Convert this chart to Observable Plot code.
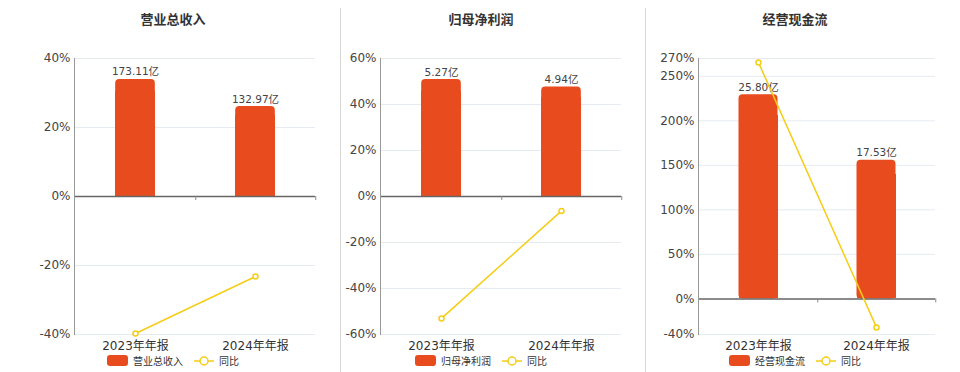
<!DOCTYPE html>
<html><head><meta charset="utf-8">
<script src="https://cdn.jsdelivr.net/npm/d3@7"></script>
<script src="https://cdn.jsdelivr.net/npm/@observablehq/plot@0.6"></script>
<style>
body{margin:0;background:#fff;}
#root{position:relative;width:960px;height:372px;overflow:hidden;background:#fff;font-family:"DejaVu Sans","Noto Sans CJK SC",sans-serif;}
.title{position:absolute;top:9px;width:200px;text-align:center;font:bold 13px "Noto Sans CJK SC",sans-serif;color:#333;line-height:20px;}
.sep{position:absolute;top:8px;width:1px;height:364px;background:#d6d6d6;}
.legend{position:absolute;top:353px;width:240px;display:flex;justify-content:center;align-items:center;font:10px "Noto Sans CJK SC",sans-serif;color:#333;}
.legend .sw{width:21px;height:11px;border-radius:3px;background:#e84c1e;margin-right:5px;}
.legend .lt{margin-right:10px;}
.plot{position:absolute;top:0;}
</style></head>
<body><div id="root"></div>
<script>
const categories = ["2023年年报", "2024年年报"];
const panelTitles = ["营业总收入", "归母净利润", "经营现金流"];
const revenue = [173.11, 132.97];
const revenueYoY = [-39.7, -23.19];
const netProfit = [5.27, 4.94];
const netProfitYoY = [-53.0, -6.26];
const cashFlow = [25.80, 17.53];
const cashFlowYoY = [265.5, -32.05];
const ticks1 = [-40, -20, 0, 20, 40];
const ticks2 = [-60, -40, -20, 0, 20, 40, 60];
const ticks3 = [-40, 0, 50, 100, 150, 200, 250, 270];
// hidden bar-axis maxima (亿), aligned with top of the % axis
const barAxisMax = [204, 6.22, 30.4];

const BAR = "#e84c1e", LINE = "#f5cd16";
const root = document.getElementById("root");

const panels = [
  {title: panelTitles[0], vals: revenue, yoy: revenueYoY, ticks: ticks1, bmax: barAxisMax[0], left: 0, width: 330, ml: 74, mr: 15, center: 173},
  {title: panelTitles[1], vals: netProfit, yoy: netProfitYoY, ticks: ticks2, bmax: barAxisMax[1], left: 330, width: 310, ml: 50, mr: 19, center: 481},
  {title: panelTitles[2], vals: cashFlow, yoy: cashFlowYoY, ticks: ticks3, bmax: barAxisMax[2], left: 645, width: 300, ml: 53, mr: 10, center: 795}
];

for (const p of panels) {
  const top = p.ticks[p.ticks.length - 1];
  const data = categories.map((c, i) => ({cat: c, v: p.vals[i], yv: p.vals[i] / p.bmax * top, yoy: p.yoy[i]}));
  const bw = (p.width - p.ml - p.mr) / categories.length;
  const chart = Plot.plot({
    width: p.width, height: 355,
    marginLeft: p.ml, marginRight: p.mr, marginTop: 58, marginBottom: 21,
    style: {fontFamily: "DejaVu Sans, Noto Sans CJK SC, sans-serif", fontSize: "12px", color: "#444", background: "transparent"},
    x: {domain: categories, padding: 0, axis: null, label: null},
    y: {domain: [p.ticks[0], top], axis: null, label: null},
    marks: [
      Plot.ruleY(p.ticks.filter(t => t !== 0), {stroke: "#e6eaf3", strokeWidth: 1}),
      Plot.axisY({ticks: p.ticks, tickSize: 0, tickPadding: 4, tickFormat: d => d + "%", fill: "#444", fontSize: 12, label: null}),
      Plot.axisX({anchor: "bottom", tickSize: 0, tickPadding: 7, fill: "#333", fontSize: 12, label: null, fontFamily: "DejaVu Sans, Noto Sans CJK SC, sans-serif"}),
      Plot.barY(data, {x: "cat", y: "yv", fill: BAR, insetLeft: bw / 3, insetRight: bw / 3, rx: 4}),
      Plot.barY(data, {x: "cat", y: d => d.yv * 0.9, fill: BAR, insetLeft: bw / 3, insetRight: bw / 3, shapeRendering: "crispEdges"}),
      Plot.text(data, {x: "cat", y: "yv", text: d => d.v.toFixed(2) + "亿", dy: -4, lineAnchor: "bottom", fontSize: 10.5, fill: "#444"}),
      Plot.ruleY([0], {stroke: "#666", strokeWidth: 1.5}),
      Plot.ruleX(categories, {x: d => d, dx: bw / 2, y1: 0, y2: 0, insetBottom: -4, stroke: "#888"}),
      Plot.frame({anchor: "left", stroke: "#999"}),
      Plot.line(data, {x: "cat", y: "yoy", stroke: LINE, strokeWidth: 1.5}),
      Plot.dot(data, {x: "cat", y: "yoy", r: 2.5, fill: "#fff", stroke: LINE, strokeWidth: 1.5})
    ]
  });
  chart.classList.add("plot");
  chart.style.left = p.left + "px";
  root.appendChild(chart);

  const t = document.createElement("div");
  t.className = "title";
  t.style.left = (p.center - 100) + "px";
  t.textContent = p.title;
  root.appendChild(t);

  const lg = document.createElement("div");
  lg.className = "legend";
  lg.style.left = (p.center - 120) + "px";
  lg.innerHTML = `<div class="sw"></div><span class="lt">${p.title}</span>` +
    `<svg width="22" height="12" style="margin-right:4px"><line x1="1" y1="6" x2="21" y2="6" stroke="${LINE}" stroke-width="1.5"/><circle cx="11" cy="6" r="4" fill="#fff" stroke="${LINE}" stroke-width="1.5"/></svg><span>同比</span>`;
  root.appendChild(lg);
}
for (const x of [340, 645]) {
  const s = document.createElement("div");
  s.className = "sep";
  s.style.left = x + "px";
  root.appendChild(s);
}
</script></body></html>
